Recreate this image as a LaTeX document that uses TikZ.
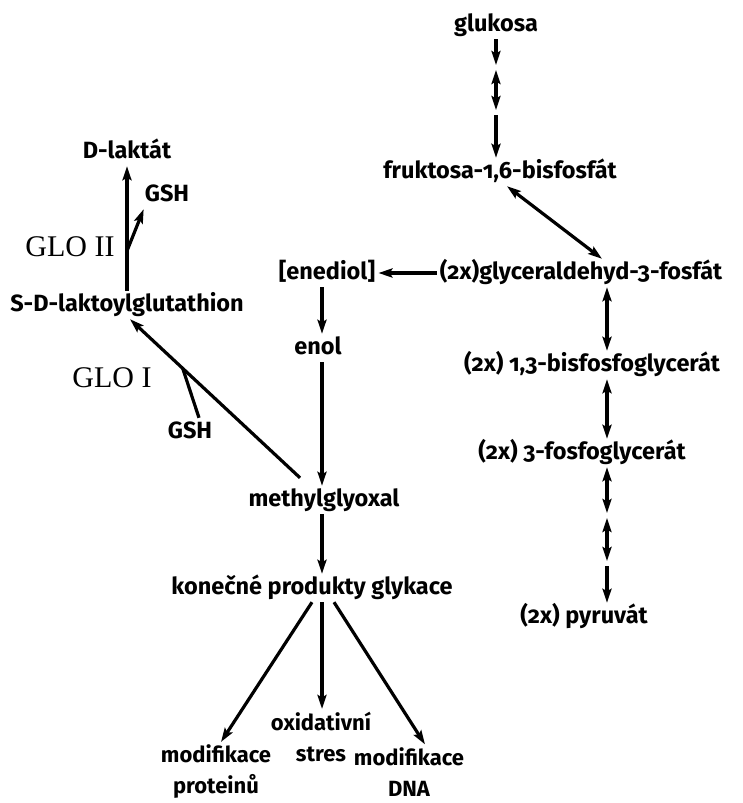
\documentclass[tikz,border=0pt]{standalone}
\usepackage{fontspec}
\setmainfont{Fira Sans}[Numbers=OldStyle]
\newfontfamily\glofont{Liberation Serif}
\usetikzlibrary{arrows.meta}

\tikzset{
  lbl/.style={font=\fontsize{23.5}{33}\selectfont\bfseries, inner sep=3pt, text height=17pt, text depth=5pt},
  two/.style={lbl, font=\fontsize{22}{31}\selectfont\bfseries, align=center, text height=, text depth=},
  enz/.style={font=\fontsize{30}{32}\selectfont\glofont, inner sep=2pt},
  tip/.tip={Stealth[length=14pt,width=9pt,inset=2.5pt]},
  fw/.style={line width=3.2pt, -tip},
  bw/.style={line width=3.2pt, tip-tip},
  ln/.style={line width=3.2pt}
}

\begin{document}
\begin{tikzpicture}[x=1pt,y=-1pt]
    \useasboundingbox (0,0) rectangle (743,803);
    % glycolysis
    \node[lbl] (gl) at (496,25) {glukosa};
    \node[lbl] (fr) at (500,172) {fruktosa-1,6-bisfosfát};
    \node[lbl] (ga) at (581,273) {(2x)glyceraldehyd-3-fosfát};
    \node[lbl] (bp) at (592,365) {(2x) 1,3-bisfosfoglycerát};
    \node[lbl] (pg) at (582,453) {(2x) 3-fosfoglycerát};
    \node[lbl] (py) at (584,617) {(2x) pyruvát};
    % methylglyoxal branch
    \node[lbl] (en) at (327,273) {[enediol]};
    \node[lbl] (eo) at (318,348) {enol};
    \node[lbl] (mg) at (324,500) {methylglyoxal};
    \node[lbl] (kp) at (312,588) {konečné produkty glykace};
    \node[two] (mp) at (216,772) {modifikace\\proteinů};
    \node[two] (os) at (321,737) {oxidativní\\stres};
    \node[two] (md) at (409,772) {modifikace\\DNA};
    % glyoxalase system
    \node[lbl] (sd) at (127,305) {S-D-laktoylglutathion};
    \node[lbl] (dl) at (127,152) {D-laktát};
    \node[lbl] (gsh2) at (167,195) {GSH};
    \node[lbl] (gsh1) at (190,432) {GSH};
    \node[enz] (glo2) at (70,247) {GLO II};
    \node[enz] (glo1) at (112,378) {GLO I};

    \coordinate (g1) at (496,67.5);
    \coordinate (g2) at (496,112.5);
    \coordinate (rx) at (607,0);
    \coordinate (p1) at (607,515.5);
    \coordinate (p2) at (607,563.5);
    \coordinate (mx) at (322,0);

    \draw[fw, shorten >=2.5pt] (gl) -- (g1);
    \draw[bw, shorten <=2.5pt, shorten >=2.5pt] (g1) -- (g2);
    \draw[fw, shorten <=2.5pt] (g2) -- (g2 |- fr.north);
    \draw[bw] ([xshift=7pt]fr.south) -- ([xshift=-5pt]ga.north -| rx);
    \draw[bw] (ga.south -| rx) -- (bp.north -| rx);
    \draw[bw] (bp.south -| rx) -- (pg.north -| rx);
    \draw[bw, shorten >=2.5pt] (pg.south -| rx) -- (p1);
    \draw[bw, shorten <=2.5pt, shorten >=2.5pt] (p1) -- (p2);
    \draw[fw, shorten <=2.5pt] (p2) -- (py.north -| rx);

    \draw[fw] (ga.west) -- (en.east);
    \draw[fw] (en.south -| mx) -- (eo.north -| mx);
    \draw[fw] (eo.south -| mx) -- (mg.north -| mx);
    \draw[fw] (mg.south -| mx) -- (kp.north -| mx);
    \draw[fw] (kp.south) -- ([xshift=5pt]mp.north);
    \draw[fw] (kp.south -| mx) -- (os.north -| mx);
    \draw[fw] ([xshift=22pt]kp.south) -- ([xshift=16pt]md.north);

    \draw[fw] ([xshift=-24pt,yshift=8pt]mg.north) -- coordinate[pos=0.69] (j1) ([xshift=3pt]sd.south);
    \draw[ln] ([xshift=9pt]gsh1.north) -- (j1);
    \draw[fw] (sd.north) -- coordinate[pos=0.32] (j2) (dl.south);
    \draw[fw] (j2) -- ([xshift=2pt]gsh2.south west);
\end{tikzpicture}
\end{document}
